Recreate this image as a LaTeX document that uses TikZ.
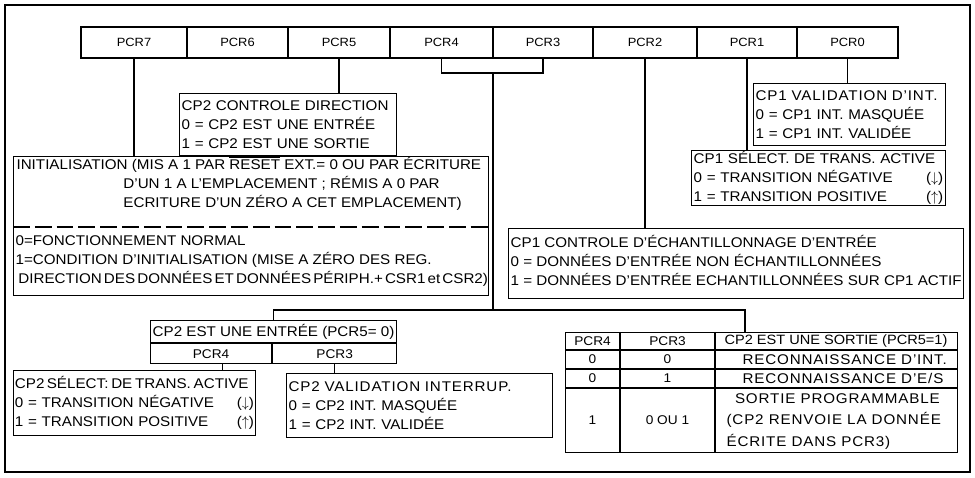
\documentclass[tikz,border=0pt]{standalone}
\usepackage{fontspec}
\setmainfont{Liberation Sans}[FakeStretch=1.08]
\newcommand\pxu{0.025cm}
\newcommand\wide[1]{{\addfontfeatures{LetterSpace=6}#1}}
\tikzset{
  reg/.style={draw,inner sep=0pt,minimum height=31*\pxu,font=\fontsize{8.5}{10}\selectfont},
  box/.style={draw,anchor=north west,align=left,inner xsep=1.5pt,inner ysep=0pt,font=\fontsize{10}{13.7}\selectfont},
  txt/.style={align=left,inner sep=0pt,font=\fontsize{10}{13.7}\selectfont},
  cell/.style={inner sep=0pt,font=\fontsize{9}{11}\selectfont}
}
\begin{document}
\begin{tikzpicture}[x=\pxu,y=-\pxu,line width=0.8pt]
  \useasboundingbox (0,0) rectangle (975,478);
  \draw (5,5) rectangle (970,472);
  \foreach \n/\xa/\xb in {7/81/187,6/187/288,5/288/390,4/390/493,3/493/593,2/593/697,1/697/797,0/797/898}
    \node[reg,minimum width=(\xb-\xa)*\pxu] (pcr\n) at ({(\xa+\xb)/2},42.5) {PCR\n};

  \node[box,text width=151.5pt,minimum height=62*\pxu] (ctl2) at (179,93) {CP2 CONTROLE DIRECTION\\0 = CP2 EST UNE ENTRÉE\\1 = CP2 EST UNE SORTIE};
  \node[box,text width=133.5pt,minimum height=62*\pxu] (val1) at (753,83) {\wide{CP1 VALIDATION D'INT.}\\0 = CP1 INT. MASQUÉE\\1 = CP1 INT. VALIDÉE};
  \node[box,text width=177.5pt,minimum height=55*\pxu] (sel1) at (691,150) {\mbox{CP1 SÉLECT. DE TRANS. ACTIVE}\\0 = TRANSITION NÉGATIVE\hfill($\downarrow$)\hspace*{6pt}\\1 = TRANSITION POSITIVE\hfill($\uparrow$)\hspace*{6pt}};
  \node[box,minimum width=452*\pxu,minimum height=70*\pxu] (ctl1) at (508,228) {CP1 CONTROLE D'ÉCHANTILLONNAGE D'ENTRÉE\\0 = DONNÉES D'ENTRÉE NON ÉCHANTILLONNÉES\\1 = DONNÉES D'ENTRÉE ECHANTILLONNÉES SUR CP1 ACTIF\\[-9pt]};

  \node[box,minimum width=475*\pxu,minimum height=139*\pxu] (init) at (13,156) {};
  \node[txt,anchor=west] (initA) at (16,183.5) {INITIALISATION (MIS A 1 PAR $\overline{\mbox{RESET}}$ EXT.= 0 OU PAR ÉCRITURE\\\hspace*{76pt}D'UN 1 A L'EMPLACEMENT ; RÉMIS A 0 PAR\\\hspace*{76pt}ECRITURE D'UN ZÉRO A CET EMPLACEMENT)};
  \draw[dash pattern=on 12pt off 3.5pt] (init.west |- 0,227) -- (init.east |- 0,227);
  \node[txt,anchor=west] (initB) at (15,261) {0=FONCTIONNEMENT NORMAL\\1=CONDITION D'INITIALISATION (MISE A ZÉRO DES REG.\\\spaceskip=0.15em plus 0.05em\relax\hspace*{2pt}DIRECTION DES DONNÉES ET DONNÉES PÉRIPH.+ CSR1 et CSR2)};

  \node[box,minimum width=245*\pxu,minimum height=22*\pxu] (in2) at (150,320) {CP2 EST UNE ENTRÉE (PCR5= 0)};
  \node[box,minimum width=121*\pxu,minimum height=20*\pxu,font=\fontsize{9}{11}\selectfont] (in4) at (in2.south west) {PCR4};
  \node[box,minimum width=124*\pxu,minimum height=20*\pxu,font=\fontsize{9}{11}\selectfont] (in3) at (in4.north east) {PCR3};
  \node[box,text width=170pt,inner xsep=1pt,minimum height=65*\pxu] (sel2) at (13,370) {\mbox{\spaceskip=0.2em\relax CP2\,SÉLECT: DE TRANS. ACTIVE}\\0 = TRANSITION NÉGATIVE\hfill($\downarrow$)\\1 = TRANSITION POSITIVE\hfill($\uparrow$)};
  \node[box,text width=186pt,minimum height=64*\pxu] (val2) at (286,373) {\wide{CP2 VALIDATION INTERRUP.}\\0 = CP2 INT. MASQUÉE\\1 = CP2 INT. VALIDÉE};

  \node[draw,anchor=north west,inner sep=0pt,minimum width=392*\pxu,minimum height=120*\pxu] (tab) at (565,332) {};
  \foreach \yy in {350,369,388} \draw (565,\yy) -- (957,\yy);
  \foreach \xx in {620,715} \draw (\xx,332) -- (\xx,452);
  \node[cell] (h4) at (592.5,341) {PCR4};
  \node[cell] (h3) at (667.5,341) {PCR3};
  \node[txt,font=\fontsize{9.6}{11}\selectfont] (hs) at (836,341) {CP2 EST UNE SORTIE (PCR5=1)};
  \node[cell] (a4) at (592.5,359.5) {0};
  \node[cell] (a3) at (667.5,359.5) {0};
  \node[txt,anchor=west] (ta) at (742,359.5) {\wide{RECONNAISSANCE D'INT.}};
  \node[cell] (b4) at (592.5,378.5) {0};
  \node[cell] (b3) at (667.5,378.5) {1};
  \node[txt,anchor=west] (tb) at (742,378.5) {\wide{RECONNAISSANCE D'E/S}};
  \node[cell] (c4) at (592.5,420) {1};
  \node[cell] (c3) at (667.5,420) {0 OU 1};
  \node[txt,anchor=west,font=\fontsize{10}{15}\selectfont] (tc) at (726,421.5) {\hspace*{6pt}\wide{SORTIE PROGRAMMABLE}\\\wide{(CP2 RENVOIE LA DONNÉE}\\\wide{ÉCRITE DANS PCR3)}};

  \draw (pcr7.south) -- (pcr7.south |- init.north);
  \draw (pcr5.south) -- (pcr5.south |- ctl2.north);
  \draw (pcr2.south) -- (pcr2.south |- ctl1.north);
  \draw (pcr1.south) -- (pcr1.south |- sel1.north);
  \draw (pcr0.south) -- (pcr0.south |- val1.north);
  \coordinate (jn) at (493,73);
  \coordinate (split) at (493,310);
  \coordinate (tj) at (745,310);
  \draw (pcr4.south) |- (jn) -| (pcr3.south);
  \draw (jn) -- (split);
  \draw (in2.north) |- (tj) -- (tj |- tab.north);
  \coordinate (s4) at ([xshift=11*\pxu]in4.south);
  \draw (s4) -- (s4 |- sel2.north);
  \draw (in3.south) -- (in3.south |- val2.north);
\end{tikzpicture}
\end{document}
